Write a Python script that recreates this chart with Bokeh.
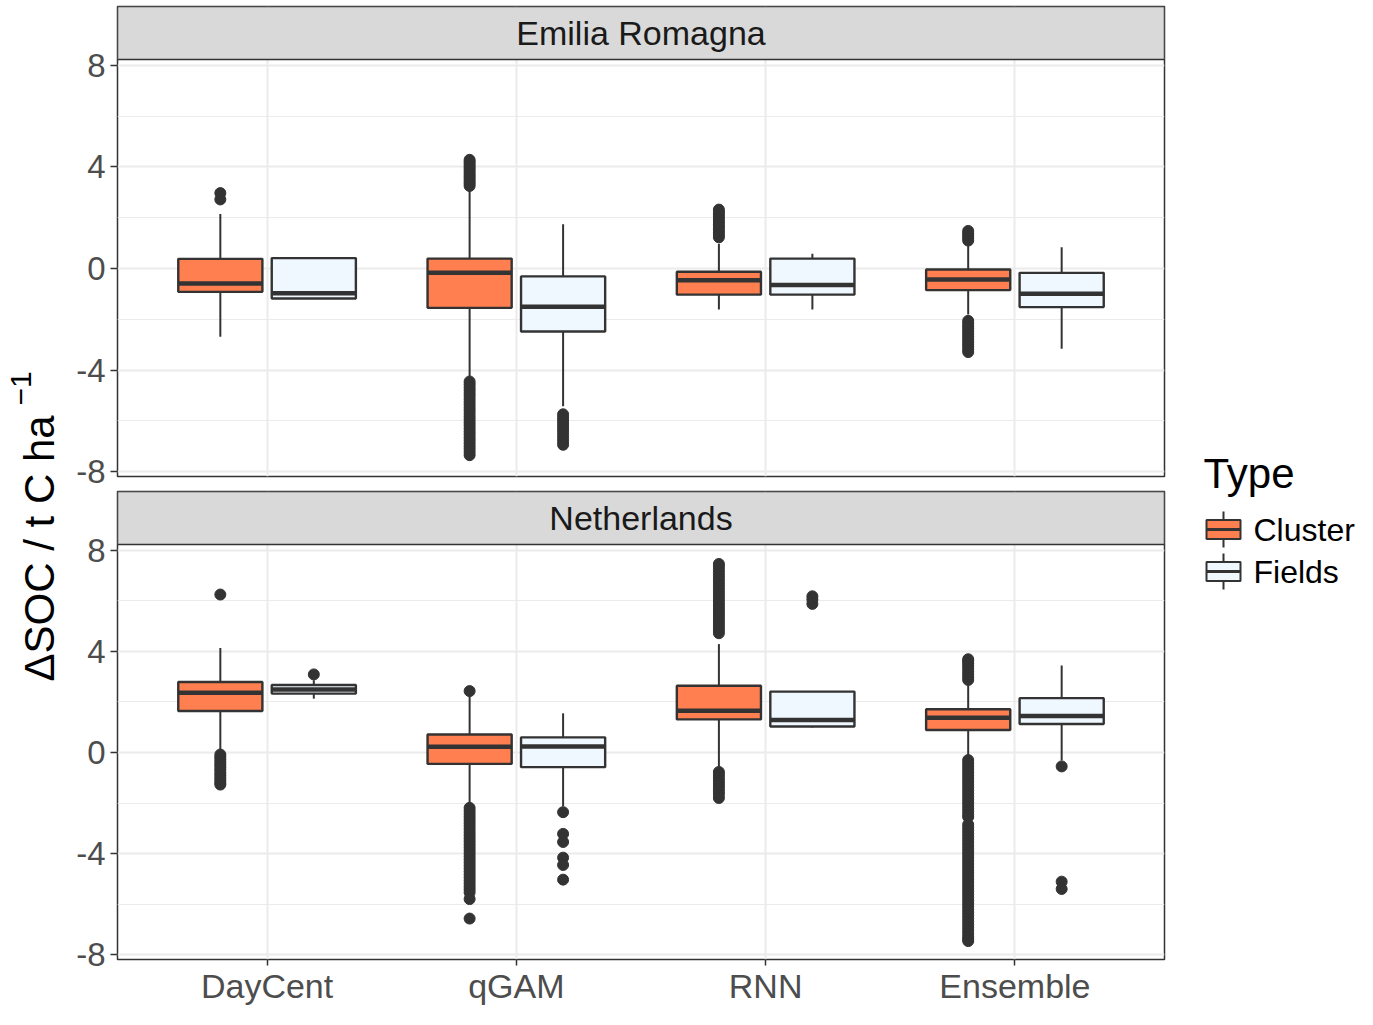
import math
from bokeh.plotting import figure
from bokeh.models import Range1d, FixedTicker, BoxAnnotation, Label, ColumnDataSource
from bokeh.layouts import row, column
from bokeh.embed import file_html
from bokeh.resources import INLINE

# ---------------- data ----------------
models = ["DayCent", "qGAM", "RNN", "Ensemble"]
types = ["Cluster", "Fields"]
regions = ["Emilia Romagna", "Netherlands"]
y_ticks = [-8, -4, 0, 4, 8]
y_tick_labels = ["-8", "-4", "0", "4", "8"]
y_minor = [-6, -2, 2, 6]

# Emilia Romagna - Cluster
er_cluster_q1 = [-0.92, -1.55, -1.03, -0.85]
er_cluster_med = [-0.59, -0.17, -0.46, -0.43]
er_cluster_q3 = [0.38, 0.39, -0.13, -0.04]
er_cluster_lo = [-2.69, -4.26, -1.61, -1.81]
er_cluster_hi = [2.15, 3.10, 0.97, 0.90]
er_cluster_out = [
    [2.97, 2.72],
    [3.25, 3.34, 3.42, 3.51, 3.60, 3.68, 3.77, 3.86, 3.95, 4.03, 4.12, 4.20, 4.28,
     -4.45, -4.56, -4.68, -4.79, -4.91, -5.02, -5.14, -5.26, -5.37, -5.49, -5.60, -5.72,
     -5.84, -5.95, -6.07, -6.18, -6.30, -6.42, -6.53, -6.65, -6.76, -6.88, -7.00, -7.11,
     -7.23, -7.35],
    [1.23, 1.33, 1.43, 1.53, 1.63, 1.73, 1.83, 1.93, 2.03, 2.13, 2.23, 2.32],
    [1.10, 1.20, 1.29, 1.38, 1.48,
     -2.06, -2.16, -2.27, -2.37, -2.47, -2.58, -2.68, -2.78, -2.88, -2.98, -3.08, -3.19, -3.29],
]
# Emilia Romagna - Fields
er_fields_q1 = [-1.18, -2.48, -1.03, -1.52]
er_fields_med = [-0.97, -1.51, -0.65, -0.99]
er_fields_q3 = [0.41, -0.31, 0.39, -0.17]
er_fields_lo = [-1.20, -5.42, -1.61, -3.16]
er_fields_hi = [0.44, 1.74, 0.58, 0.84]
er_fields_out = [
    [],
    [-5.74, -5.86, -5.97, -6.09, -6.21, -6.33, -6.45, -6.58, -6.70, -6.82, -6.94],
    [],
    [],
]

# Netherlands - Cluster
nl_cluster_q1 = [1.64, -0.45, 1.31, 0.89]
nl_cluster_med = [2.36, 0.23, 1.65, 1.38]
nl_cluster_q3 = [2.79, 0.71, 2.64, 1.71]
nl_cluster_lo = [0.09, -2.00, -0.55, -0.12]
nl_cluster_hi = [4.13, 2.25, 4.29, 2.66]
nl_cluster_out = [
    [6.25, -0.08, -0.18, -0.28, -0.39, -0.49, -0.59, -0.69, -0.80, -0.90, -1.00, -1.10, -1.20, -1.27],
    [2.43, -2.19, -2.31, -2.43, -2.55, -2.67, -2.79, -2.91, -3.03, -3.15, -3.27, -3.39, -3.51,
     -3.63, -3.75, -3.87, -3.99, -4.11, -4.23, -4.35, -4.47, -4.59, -4.71, -4.83, -4.95, -5.07,
     -5.19, -5.31, -5.42, -5.54, -5.80, -6.57],
    [4.72, 4.84, 4.96, 5.08, 5.20, 5.32, 5.44, 5.56, 5.68, 5.80, 5.92, 6.04, 6.16, 6.28, 6.40,
     6.52, 6.64, 6.76, 6.88, 7.00, 7.12, 7.24, 7.36, 7.46,
     -0.77, -0.88, -0.99, -1.10, -1.21, -1.32, -1.43, -1.54, -1.65, -1.80],
    [2.87, 2.98, 3.09, 3.20, 3.31, 3.42, 3.53, 3.62, 3.69,
     -0.30, -0.42, -0.54, -0.66, -0.78, -0.90, -1.02, -1.14, -1.26, -1.38, -1.50, -1.62, -1.74,
     -1.86, -1.98, -2.10, -2.22, -2.34, -2.46, -2.55,
     -2.85, -2.97, -3.09, -3.21, -3.33, -3.45, -3.57, -3.69, -3.81, -3.93, -4.05, -4.17, -4.29,
     -4.41, -4.53, -4.65, -4.77, -4.89, -5.01, -5.13, -5.25, -5.37, -5.49, -5.61, -5.73, -5.85,
     -5.97, -6.09, -6.21, -6.33, -6.45, -6.57, -6.69, -6.81, -6.93, -7.05, -7.17, -7.29, -7.38,
     -7.46],
]
# Netherlands - Fields
nl_fields_q1 = [2.33, -0.58, 1.03, 1.13]
nl_fields_med = [2.49, 0.24, 1.29, 1.44]
nl_fields_q3 = [2.67, 0.60, 2.41, 2.15]
nl_fields_lo = [2.13, -2.13, 0.99, -0.32]
nl_fields_hi = [2.86, 1.55, 2.41, 3.44]
nl_fields_out = [
    [3.09],
    [-2.36, -3.22, -3.54, -4.16, -4.45, -5.03],
    [6.18, 6.05, 5.88],
    [-0.55, -5.11, -5.40],
]

# ---------------- style / layout ----------------
FONT = "Liberation Sans"
DARK = "#333333"
FILL = {"Cluster": "#FF7F50", "Fields": "#F0F8FF"}
Y0, Y1 = -8.19, 8.23
X0, X1 = 0.4, 4.6
DODGE = 0.1875
BOX_W = 0.3375
LAB_W = 68
FIG_W = 1098
LEG_W = 1357 - LAB_W - FIG_W
TOTAL_H = 1009
TOP_H = 490


def make_panel(title, stats, strip_px, height, border_top, border_bottom, show_x):
    panel_px = height - border_top - border_bottom - strip_px
    y_end = Y1 + strip_px * (Y1 - Y0) / panel_px
    p = figure(width=FIG_W, height=height, x_range=Range1d(X0, X1), y_range=Range1d(Y0, y_end),
               output_backend="svg", toolbar_location=None,
               x_axis_location="below" if show_x else None,
               min_border_left=49, min_border_right=2,
               min_border_top=border_top, min_border_bottom=border_bottom)
    p.background_fill_color = "white"
    p.border_fill_color = "white"
    p.outline_line_color = DARK
    p.outline_line_width = 1.5

    # grids
    p.xgrid.ticker = FixedTicker(ticks=[1, 2, 3, 4])
    p.xgrid.grid_line_color = "#ebebeb"
    p.xgrid.grid_line_width = 2
    p.ygrid.ticker = FixedTicker(ticks=y_ticks, minor_ticks=y_minor)
    p.ygrid.grid_line_color = "#ebebeb"
    p.ygrid.grid_line_width = 2
    p.ygrid.minor_grid_line_color = "#ebebeb"
    p.ygrid.minor_grid_line_width = 1

    # y axis
    ya = p.yaxis[0]
    ya.ticker = FixedTicker(ticks=y_ticks, minor_ticks=y_minor)
    ya.major_label_overrides = {t: s for t, s in zip(y_ticks, y_tick_labels)}
    ya.axis_line_color = None
    ya.major_tick_line_color = DARK
    ya.major_tick_line_width = 1.5
    ya.major_tick_out = 7
    ya.major_tick_in = 0
    ya.minor_tick_line_color = None
    ya.major_label_text_font = FONT
    ya.major_label_text_font_size = "33px"
    ya.major_label_text_color = "#4d4d4d"
    ya.major_label_standoff = 5

    if show_x:
        xa = p.xaxis[0]
        xa.ticker = FixedTicker(ticks=[1, 2, 3, 4])
        xa.major_label_overrides = {i + 1: m for i, m in enumerate(models)}
        xa.axis_line_color = None
        xa.major_tick_line_color = DARK
        xa.major_tick_line_width = 1.5
        xa.major_tick_out = 6
        xa.major_tick_in = 0
        xa.minor_tick_line_color = None
        xa.major_label_text_font = FONT
        xa.major_label_text_font_size = "34px"
        xa.major_label_text_color = "#4d4d4d"
        xa.major_label_standoff = 1

    for k, t in enumerate(types):
        q1, med, q3, lo, hi, out = stats[t]
        off = -DODGE if k == 0 else DODGE
        xs = [i + 1 + off for i in range(len(models))]
        src = ColumnDataSource(dict(x=xs, q1=q1, med=med, q3=q3, lo=lo, hi=hi,
                                    xl=[x - BOX_W / 2 for x in xs], xr=[x + BOX_W / 2 for x in xs]))
        p.segment(x0="x", y0="q3", x1="x", y1="hi", source=src, line_color=DARK, line_width=2)
        p.segment(x0="x", y0="q1", x1="x", y1="lo", source=src, line_color=DARK, line_width=2)
        p.vbar(x="x", width=BOX_W, top="q3", bottom="q1", source=src,
               fill_color=FILL[t], line_color=DARK, line_width=2.4)
        p.segment(x0="xl", y0="med", x1="xr", y1="med", source=src, line_color=DARK, line_width=4.5)
        ox, oy = [], []
        for i, vals in enumerate(out):
            ox += [xs[i]] * len(vals)
            oy += vals
        p.scatter(x=ox, y=oy, size=11, fill_color=DARK, line_color=DARK, line_width=1)

    strip = BoxAnnotation(left=X0, right=X1, bottom=Y1, top=y_end, fill_color="#d9d9d9",
                          fill_alpha=1.0, line_color=DARK, line_width=1.5, line_alpha=1.0)
    p.add_layout(strip)
    p.add_layout(Label(x=(X0 + X1) / 2, y=(Y1 + y_end) / 2, text=title, text_align="center",
                       text_baseline="middle", text_font=FONT, text_font_size="34px",
                       text_color="#1a1a1a"))
    return p


stats_er = {"Cluster": (er_cluster_q1, er_cluster_med, er_cluster_q3, er_cluster_lo, er_cluster_hi, er_cluster_out),
            "Fields": (er_fields_q1, er_fields_med, er_fields_q3, er_fields_lo, er_fields_hi, er_fields_out)}
stats_nl = {"Cluster": (nl_cluster_q1, nl_cluster_med, nl_cluster_q3, nl_cluster_lo, nl_cluster_hi, nl_cluster_out),
            "Fields": (nl_fields_q1, nl_fields_med, nl_fields_q3, nl_fields_lo, nl_fields_hi, nl_fields_out)}

top = make_panel(regions[0], stats_er, strip_px=53, height=TOP_H, border_top=6, border_bottom=14, show_x=False)
bottom = make_panel(regions[1], stats_nl, strip_px=53, height=TOTAL_H - TOP_H, border_top=1,
                    border_bottom=50, show_x=True)


def blank(width, x_start):
    f = figure(width=width, height=TOTAL_H, x_range=Range1d(x_start, x_start + width),
               y_range=Range1d(TOTAL_H, 0), output_backend="svg", toolbar_location=None,
               x_axis_location=None, y_axis_location=None,
               min_border_left=0, min_border_right=0, min_border_top=0, min_border_bottom=0)
    f.grid.visible = False
    f.outline_line_color = None
    f.background_fill_color = "white"
    f.border_fill_color = "white"
    return f


# y-axis title (coordinates are layout pixels)
lab = blank(LAB_W, 0)
lab.add_layout(Label(x=39, y=681, text="\u0394SOC / t C ha", angle=math.pi / 2, text_align="left",
                     text_baseline="middle", text_font=FONT, text_font_size="42px", text_color="black"))
lab.add_layout(Label(x=20, y=405, text="\u22121", angle=math.pi / 2, text_align="left",
                     text_baseline="middle", text_font=FONT, text_font_size="30px", text_color="black"))

# legend
leg = blank(LEG_W, LAB_W + FIG_W)
leg.add_layout(Label(x=1203, y=473, text="Type", text_align="left", text_baseline="middle",
                     text_font=FONT, text_font_size="42px", text_color="black"))
key_y = {"Cluster": 529, "Fields": 571}
for t in types:
    cy = key_y[t]
    leg.segment(x0=[1223, 1223], y0=[cy - 18, cy + 9], x1=[1223, 1223], y1=[cy - 9, cy + 18],
                line_color=DARK, line_width=2)
    leg.quad(left=[1206], right=[1240], top=[cy - 9.5], bottom=[cy + 9.5], fill_color=FILL[t],
             line_color=DARK, line_width=2)
    leg.segment(x0=[1206], y0=[cy], x1=[1240], y1=[cy], line_color=DARK, line_width=3)
    leg.add_layout(Label(x=1253, y=cy, text=t, text_align="left", text_baseline="middle",
                         text_font=FONT, text_font_size="32px", text_color="black"))

layout = row(lab, column(top, bottom), leg)

open("out.html", "w").write(file_html(layout, INLINE))
